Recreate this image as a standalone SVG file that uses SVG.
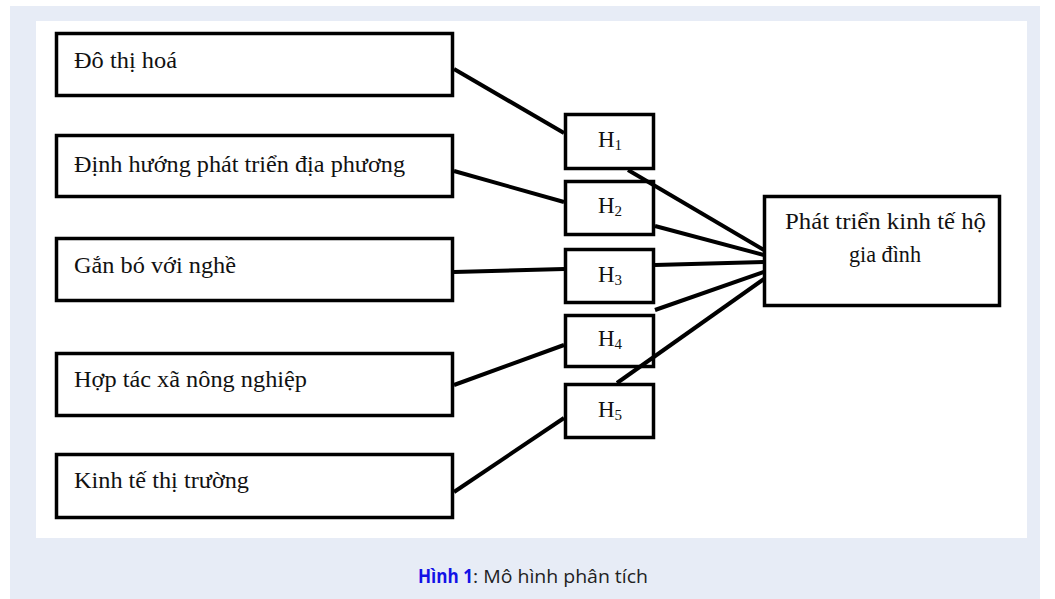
<svg xmlns="http://www.w3.org/2000/svg" width="1055" height="599" viewBox="0 0 1055 599">
<style>
.box{fill:#fff;stroke:#000;stroke-width:3.5}
.lbl{font-family:"Liberation Serif","Times New Roman",serif;font-size:23px;fill:#111}
.hl{font-family:"Liberation Serif","Times New Roman",serif;font-size:23px;fill:#111;text-anchor:middle}
.sub{font-size:15px}
.conn line{stroke:#000;stroke-width:4;stroke-linecap:butt}
.cap{font-family:"Open Sans","Noto Sans",sans-serif;font-size:19px}
</style>
<rect x="10" y="6" width="1030" height="593" fill="#E7ECF6"/>
<rect x="36" y="21" width="991" height="517" fill="#FFFFFF"/>
<g id="n-dothihoa"><rect class="box" x="56.5" y="33.5" width="396" height="62"/><text class="lbl" x="74" y="68" textLength="103" lengthAdjust="spacingAndGlyphs">Đô thị hoá</text></g>
<g id="n-dinhhuong"><rect class="box" x="56.5" y="135.5" width="396" height="61"/><text class="lbl" x="74" y="172" textLength="331" lengthAdjust="spacingAndGlyphs">Định hướng phát triển địa phương</text></g>
<g id="n-ganbo"><rect class="box" x="56.5" y="238.5" width="396" height="62"/><text class="lbl" x="74" y="273" textLength="162" lengthAdjust="spacingAndGlyphs">Gắn bó với nghề</text></g>
<g id="n-hoptac"><rect class="box" x="56.5" y="353.5" width="396" height="62"/><text class="lbl" x="74" y="387" textLength="233" lengthAdjust="spacingAndGlyphs">Hợp tác xã nông nghiệp</text></g>
<g id="n-kinhte"><rect class="box" x="56.5" y="454.5" width="396" height="63"/><text class="lbl" x="74" y="488" textLength="175" lengthAdjust="spacingAndGlyphs">Kinh tế thị trường</text></g>
<g id="n-h1"><rect class="box" x="565.5" y="114.5" width="88" height="54"/><text class="hl" x="610" y="147">H<tspan class="sub" dy="3">1</tspan></text></g>
<g id="n-h2"><rect class="box" x="565.5" y="181.5" width="88" height="53"/><text class="hl" x="610" y="213">H<tspan class="sub" dy="3">2</tspan></text></g>
<g id="n-h3"><rect class="box" x="565.5" y="249.5" width="88" height="53"/><text class="hl" x="610" y="282">H<tspan class="sub" dy="3">3</tspan></text></g>
<g id="n-h4"><rect class="box" x="565.5" y="315.5" width="88" height="51"/><text class="hl" x="610" y="346">H<tspan class="sub" dy="3">4</tspan></text></g>
<g id="n-h5"><rect class="box" x="565.5" y="384.5" width="88" height="53"/><text class="hl" x="610" y="417">H<tspan class="sub" dy="3">5</tspan></text></g>
<g id="n-phattrien"><rect class="box" x="764.5" y="196.5" width="235" height="109"/><text class="hl" x="885.5" y="229" textLength="201" lengthAdjust="spacingAndGlyphs">Phát triển kinh tế hộ</text><text class="hl" x="885" y="262" textLength="72" lengthAdjust="spacingAndGlyphs">gia đình</text></g>
<g id="connectors" class="conn">
<line x1="454" y1="69" x2="564" y2="133"/>
<line x1="454" y1="171" x2="564" y2="202"/>
<line x1="454" y1="272" x2="564" y2="269"/>
<line x1="454" y1="385" x2="564" y2="345"/>
<line x1="454" y1="492" x2="564" y2="418"/>
<line x1="628" y1="170" x2="764" y2="250"/>
<line x1="655" y1="226" x2="764" y2="255"/>
<line x1="655" y1="265" x2="764" y2="262"/>
<line x1="655" y1="310" x2="764" y2="272"/>
<line x1="617" y1="383" x2="764" y2="279"/>
</g>
<text class="cap" x="418" y="583" fill="#1212E6" font-weight="bold" textLength="55" lengthAdjust="spacingAndGlyphs">Hình 1</text>
<text class="cap" x="473" y="583" fill="#222222" textLength="175" lengthAdjust="spacingAndGlyphs">: Mô hình phân tích</text>
</svg>
